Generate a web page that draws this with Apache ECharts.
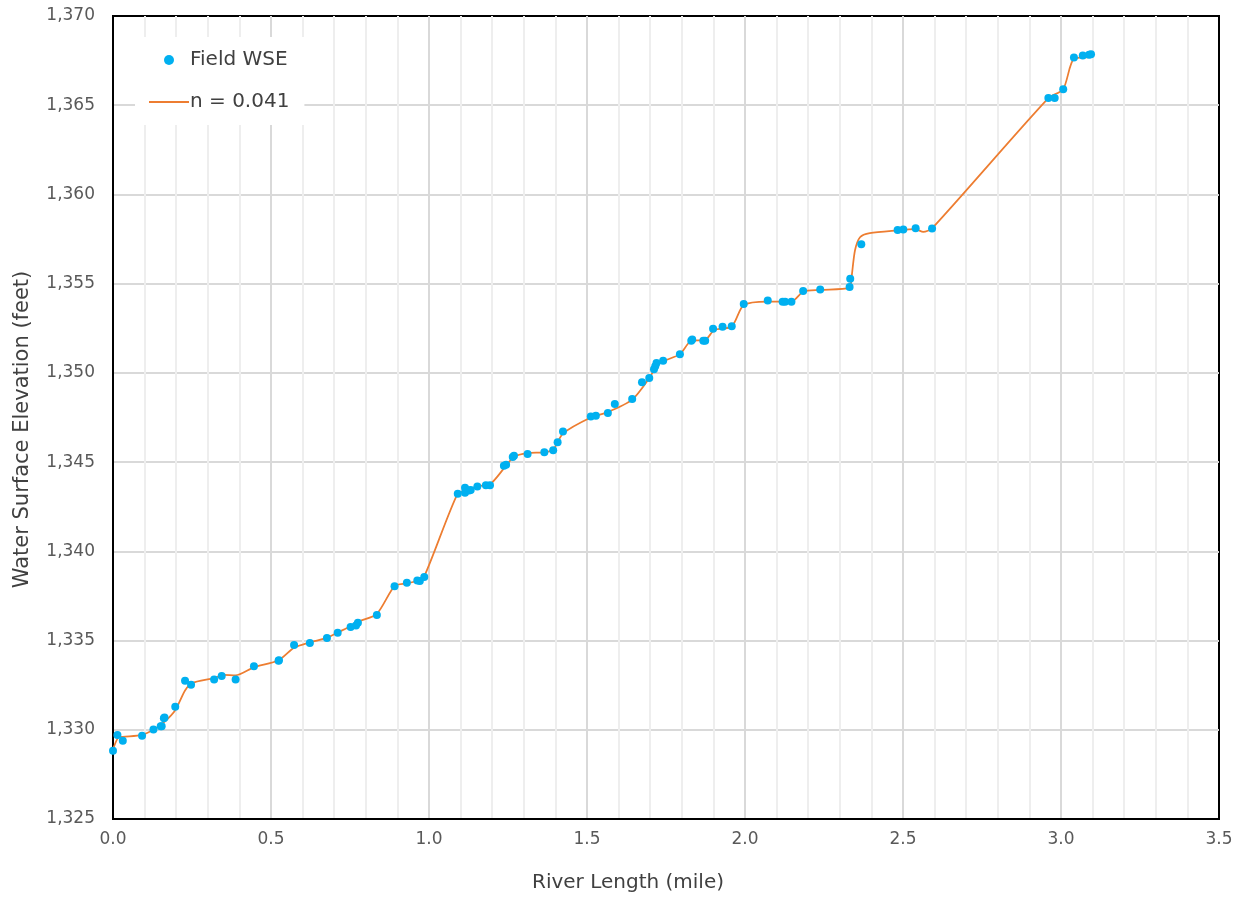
<!DOCTYPE html>
<html>
<head>
<meta charset="utf-8">
<script src="https://cdn.jsdelivr.net/npm/echarts@6/dist/echarts.min.js"></script>
<style>
  html, body { margin: 0; padding: 0; background: #ffffff; }
  #chart { width: 1243px; height: 903px; }
</style>
</head>
<body>
<div id="chart"></div>
<script>
// Field-surveyed water surface elevation (river mile, feet)
const fieldMiles = [
  0.000, 0.014, 0.031, 0.092, 0.128, 0.151, 0.154, 0.161, 0.163, 0.197,
  0.228, 0.247, 0.320, 0.344, 0.388, 0.446, 0.524, 0.525, 0.573, 0.623,
  0.677, 0.711, 0.752, 0.769, 0.775, 0.835, 0.891, 0.930, 0.963, 0.971,
  0.985, 1.091, 1.114, 1.114, 1.127, 1.132, 1.153, 1.180, 1.193, 1.237,
  1.244, 1.265, 1.269, 1.312, 1.365, 1.393, 1.407, 1.424, 1.512, 1.528,
  1.566, 1.588, 1.643, 1.674, 1.697, 1.712, 1.716, 1.720, 1.741, 1.794,
  1.830, 1.833, 1.868, 1.874, 1.899, 1.929, 1.958, 1.996, 2.072, 2.119,
  2.127, 2.147, 2.184, 2.238, 2.331, 2.333, 2.368, 2.483, 2.501, 2.540,
  2.592, 2.960, 2.980, 3.007, 3.041, 3.069, 3.089, 3.095
];
const fieldWSE = [
  1328.82, 1329.71, 1329.38, 1329.66, 1330.01, 1330.20, 1330.20, 1330.65, 1330.69, 1331.29,
  1332.75, 1332.53, 1332.82, 1333.02, 1332.82, 1333.56, 1333.87, 1333.90, 1334.75, 1334.86,
  1335.14, 1335.44, 1335.76, 1335.85, 1336.00, 1336.43, 1338.05, 1338.24, 1338.36, 1338.34,
  1338.56, 1343.22, 1343.56, 1343.29, 1343.41, 1343.44, 1343.64, 1343.70, 1343.70, 1344.79,
  1344.85, 1345.28, 1345.35, 1345.46, 1345.55, 1345.66, 1346.11, 1346.71, 1347.56, 1347.60,
  1347.75, 1348.25, 1348.53, 1349.47, 1349.71, 1350.20, 1350.37, 1350.55, 1350.68, 1351.05,
  1351.80, 1351.87, 1351.80, 1351.80, 1352.48, 1352.59, 1352.62, 1353.86, 1354.05, 1353.99,
  1353.99, 1353.99, 1354.59, 1354.68, 1354.81, 1355.28, 1357.21, 1358.01, 1358.03, 1358.11,
  1358.09, 1365.41, 1365.41, 1365.90, 1367.68, 1367.79, 1367.83, 1367.85
];

// Modelled profile, Manning's n = 0.041
const modelMiles = [
  0.000, 0.016, 0.031, 0.092, 0.128, 0.160, 0.197, 0.228, 0.250, 0.320,
  0.350, 0.388, 0.446, 0.524, 0.573, 0.623, 0.677, 0.711, 0.752, 0.775,
  0.835, 0.891, 0.930, 0.963, 0.985, 1.091, 1.120, 1.153, 1.193, 1.244,
  1.269, 1.312, 1.365, 1.393, 1.424, 1.512, 1.566, 1.643, 1.697, 1.720,
  1.741, 1.794, 1.830, 1.874, 1.903, 1.958, 1.996, 2.072, 2.147, 2.184,
  2.238, 2.331, 2.337, 2.348, 2.364, 2.395, 2.480, 2.540, 2.564, 2.592,
  2.960, 3.007, 3.041, 3.095
];
const modelWSE = [
  1328.90, 1329.55, 1329.60, 1329.72, 1330.00, 1330.40, 1331.10, 1332.20, 1332.62, 1332.90,
  1333.08, 1333.05, 1333.50, 1333.90, 1334.60, 1334.90, 1335.15, 1335.45, 1335.80, 1336.05,
  1336.50, 1338.05, 1338.20, 1338.35, 1338.60, 1343.25, 1343.40, 1343.65, 1343.75, 1344.80,
  1345.30, 1345.50, 1345.55, 1345.70, 1346.60, 1347.50, 1347.80, 1348.50, 1349.70, 1350.40,
  1350.65, 1351.05, 1351.80, 1351.85, 1352.40, 1352.60, 1353.80, 1354.00, 1354.00, 1354.55,
  1354.65, 1354.78, 1355.33, 1356.86, 1357.60, 1357.83, 1357.98, 1358.05, 1357.90, 1358.10,
  1365.40, 1365.90, 1367.60, 1367.70
];

const yTicks = [1325, 1330, 1335, 1340, 1345, 1350, 1355, 1360, 1365, 1370];

const FONT = 'DejaVu Sans';
const fieldData = fieldMiles.map((m, i) => [m, fieldWSE[i]]);
const modelData = modelMiles.map((m, i) => [m, modelWSE[i]]);

const chart = echarts.init(document.getElementById('chart'), null, { renderer: 'canvas' });
chart.setOption({
  backgroundColor: '#ffffff',
  animation: false,
  textStyle: { fontFamily: FONT },
  grid: {
    left: 113, right: 24, top: 16, bottom: 84,
    show: true, borderColor: '#000000', borderWidth: 2, backgroundColor: 'transparent'
  },
  legend: {
    orient: 'vertical',
    left: 135, top: 37,
    padding: [13, 15, 13, 14],
    backgroundColor: '#ffffff',
    itemWidth: 40, itemHeight: 10,
    itemGap: 22,
    textStyle: { fontFamily: FONT, fontSize: 20, color: '#404040', padding: [0, 0, 0, -4] },
    data: [
      { name: 'Field WSE', icon: 'circle' },
      // plain line key, no marker
      { name: 'n = 0.041', icon: 'path://M0,0 H40 V1.8 H0 Z' }
    ]
  },
  xAxis: {
    type: 'value',
    min: 0, max: 3.5, interval: 0.5,
    name: 'River Length (mile)',
    nameLocation: 'middle',
    nameGap: 54,
    nameTextStyle: { fontFamily: FONT, fontSize: 20, color: '#404040', padding: [0, 76, 0, 0] },
    axisLine: { show: true, lineStyle: { color: '#000000', width: 2 } },
    axisTick: { show: false },
    axisLabel: {
      margin: 12, fontFamily: FONT, fontSize: 17, color: '#595959',
      formatter: v => v.toFixed(1)
    },
    splitLine: { show: true, showMinLine: false, showMaxLine: false, lineStyle: { color: '#d9d9d9', width: 2 } },
    minorTick: { show: false, splitNumber: 5 },
    minorSplitLine: { show: true, lineStyle: { color: '#eeeeee', width: 2 } }
  },
  yAxis: {
    type: 'value',
    min: yTicks[0], max: yTicks[yTicks.length - 1], interval: 5,
    name: 'Water Surface Elevation (feet)',
    nameLocation: 'middle',
    nameGap: 80,
    nameTextStyle: { fontFamily: FONT, fontSize: 21, color: '#404040', padding: [0, 24, 0, 0] },
    axisLine: { show: true, lineStyle: { color: '#000000', width: 2 } },
    axisTick: { show: false },
    axisLabel: {
      margin: 18, fontFamily: FONT, fontSize: 17, color: '#595959',
      formatter: v => v.toLocaleString('en-US')
    },
    splitLine: { show: true, showMinLine: false, showMaxLine: false, lineStyle: { color: '#d9d9d9', width: 2 } }
  },
  series: [
    {
      name: 'n = 0.041',
      type: 'line',
      data: modelData,
      symbol: 'none',
      smooth: 0.25,
      lineStyle: { color: '#ED7D31', width: 1.75 },
      itemStyle: { color: '#ED7D31' },
      z: 2
    },
    {
      name: 'Field WSE',
      type: 'scatter',
      data: fieldData,
      symbol: 'circle',
      symbolSize: 8,
      itemStyle: { color: '#00B0F0', opacity: 1 },
      z: 3
    }
  ]
});
</script>
</body>
</html>
